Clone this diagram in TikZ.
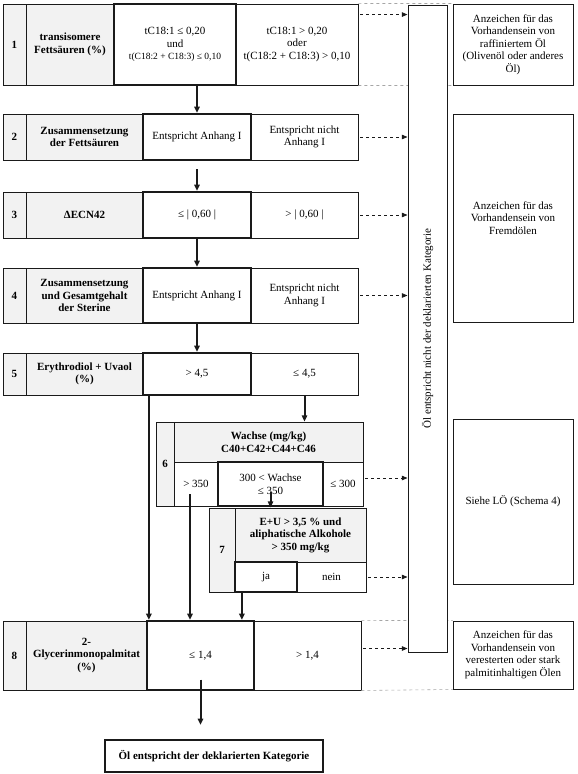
\documentclass[tikz,border=0pt]{standalone}
\usepackage{fontspec}
\setmainfont{Liberation Serif}
\usetikzlibrary{arrows.meta}
\definecolor{CellGray}{HTML}{F2F2F2}
\definecolor{CellLine}{HTML}{1A1A1A}
\definecolor{GuideGray}{HTML}{A6A6A6}
\tikzset{
  sz/.style 2 args={minimum width=#1pt,minimum height=#2pt},
  cell/.style={draw=CellLine,line width=0.9pt,inner sep=1pt,align=center,font=\fontsize{11}{12.5}\selectfont,fill=white},
  headcell/.style={cell,fill=CellGray,font=\fontsize{11}{12.5}\selectfont\bfseries},
  okcell/.style={cell,line width=2.2pt},
  infobox/.style={cell,line width=1pt},
  flowarrow/.style={-{Triangle[length=2.2mm,width=1.9mm]},line width=2pt,draw=CellLine},
  dasharrow/.style={-{Triangle[length=2mm,width=1.6mm]},dashed,line width=0.8pt,draw=CellLine,shorten <=2pt},
  guideline/.style={dashed,line width=0.6pt,draw=GuideGray}
}

\begin{document}
\begin{tikzpicture}[x=1pt,y=-1pt]
\useasboundingbox (0,0) rectangle (578,774);
\node[headcell,sz={23}{81}] (n1) at (14.5,44.5) {1};
\node[headcell,sz={88}{81}] (l1) at (70,44.5) {transisomere\\Fettsäuren (\%)};
\node[cell,sz={122}{81}] (b1) at (297,44.5) {tC18:1 > 0,20\\oder\\t(C18:2 + C18:3) > 0,10};
\node[okcell,sz={122}{81}] (a1) at (175,44.5) {tC18:1 ≤ 0,20\\und\\{\fontsize{9.5}{11}\selectfont t(C18:2 + C18:3) ≤ 0,10}};

\node[headcell,sz={23}{46}] (n2) at (14.5,137) {2};
\node[headcell,sz={117}{46}] (l2) at (84.5,137) {Zusammensetzung\\der Fettsäuren};
\node[cell,sz={107}{46}] (b2) at (304.5,137) {Entspricht nicht\\Anhang I};
\node[okcell,sz={108}{46}] (a2) at (197,137) {Entspricht Anhang I};

\node[headcell,sz={23}{46}] (n3) at (14.5,215) {3};
\node[headcell,sz={117}{46}] (l3) at (84.5,215) {ΔECN42};
\node[cell,sz={107}{46}] (b3) at (304.5,215) {> | 0,60 |};
\node[okcell,sz={108}{46}] (a3) at (197,215) {≤ | 0,60 |};

\node[headcell,sz={23}{55}] (n4) at (14.5,295.5) {4};
\node[headcell,sz={117}{55}] (l4) at (84.5,295.5) {Zusammensetzung\\und Gesamtgehalt\\der Sterine};
\node[cell,sz={107}{55}] (b4) at (304.5,295.5) {Entspricht nicht\\Anhang I};
\node[okcell,sz={108}{55}] (a4) at (197,295.5) {Entspricht Anhang I};

\node[headcell,sz={23}{42}] (n5) at (14.5,374) {5};
\node[headcell,sz={117}{42}] (l5) at (84.5,374) {Erythrodiol + Uvaol\\(\%)};
\node[cell,sz={107}{42}] (b5) at (304.5,374) {≤ 4,5};
\node[okcell,sz={108}{42}] (a5) at (197,374) {> 4,5};

\node[headcell,sz={18}{84}] (n6) at (165,464) {6};
\node[headcell,sz={189}{40}] (h6) at (268.5,442) {Wachse (mg/kg)\\C40+C42+C44+C46};
\node[cell,sz={44}{44}] (a6) at (196,484) {> 350};
\node[cell,sz={40}{44}] (b6) at (343,484) {≤ 300};
\node[okcell,sz={105}{44}] (m6) at (270.5,484) {300 < Wachse\\≤ 350};

\node[headcell,sz={26}{84}] (n7) at (222,550) {7};
\node[headcell,sz={131}{54}] (h7) at (300.5,535) {E+U > 3,5 \% und\\aliphatische Alkohole\\> 350 mg/kg};
\node[cell,sz={69}{30}] (b7) at (331.5,577) {nein};
\node[okcell,sz={62}{30}] (a7) at (266,577) {ja};

\node[headcell,sz={23}{69}] (n8) at (14.5,655.5) {8};
\node[headcell,sz={121}{69}] (l8) at (86.5,655.5) {2-\\Glycerinmonopalmitat\\(\%)};
\node[cell,sz={107}{69}] (b8) at (307.5,655.5) {> 1,4};
\node[okcell,sz={107}{69}] (a8) at (200.5,655.5) {≤ 1,4};

\node[okcell,sz={218}{32},font=\fontsize{11}{12.5}\selectfont\bfseries] (fin) at (214,756) {Öl entspricht der deklarierten Kategorie};

\node[infobox,sz={120}{81}] (i1) at (513,44.5) {Anzeichen für das\\Vorhandensein von\\raffiniertem Öl\\(Olivenöl oder anderes\\Öl)};
\node[infobox,sz={120}{208}] (i2) at (513,218) {Anzeichen für das\\Vorhandensein von\\Fremdölen};
\node[infobox,sz={120}{165}] (i3) at (513,501.5) {Siehe LÖ (Schema 4)};
\node[infobox,sz={120}{68}] (i4) at (513,655) {Anzeichen für das\\Vorhandensein von\\veresterten oder stark\\palmitinhaltigen Ölen};

\draw[guideline] (b1.north east) -- (i1.north west);
\draw[guideline] (b1.south east) -- (i1.south west);
\draw[guideline] (b8.north east) -- (i4.north west);
\draw[guideline] (b8.south east) -- (i4.south west);

\node[infobox,sz={647}{39},rotate=90] (vbox) at (427.5,328.5) {Öl entspricht nicht der deklarierten Kategorie};

\draw[flowarrow] (a2.north |- a1.south) -- (a2.north);
\draw[flowarrow,shorten <=8pt] (a2.south) -- (a3.north);
\draw[flowarrow] (a3.south) -- (a4.north);
\draw[flowarrow] (a4.south) -- (a5.north);
\coordinate (p5) at ([xshift=7pt]a5.south west);
\draw[flowarrow] (p5) -- (p5 |- a8.north);
\draw[flowarrow] (b5.south) -- (b5.south |- h6.north);
\coordinate (p6) at ([xshift=-6pt,yshift=-10pt]a6.center);
\draw[flowarrow] (p6) -- (p6 |- a8.north);
\draw[flowarrow] ([yshift=-8pt]m6.center) -- (m6.center |- h7.north);
\coordinate (p7) at ([xshift=8pt]a7.south west);
\draw[flowarrow] (p7) -- (p7 |- a8.north);
\draw[flowarrow,shorten >=14pt] ([yshift=-24pt]a8.center) -- (a8.center |- fin.north);

\coordinate (q1) at ([yshift=-11pt]b1.north east);
\coordinate (q6) at ([yshift=6pt]b6.east);
\coordinate (q8) at ([yshift=7pt]b8.east);
\draw[dasharrow] (q1) -- (q1 -| vbox.north);
\draw[dasharrow] (b2.east) -- (b2.east -| vbox.north);
\draw[dasharrow] (b3.east) -- (b3.east -| vbox.north);
\draw[dasharrow] (b4.east) -- (b4.east -| vbox.north);
\draw[dasharrow] (q6) -- (q6 -| vbox.north);
\draw[dasharrow] (b7.east) -- (b7.east -| vbox.north);
\draw[dasharrow] (q8) -- (q8 -| vbox.north);
\end{tikzpicture}
\end{document}
